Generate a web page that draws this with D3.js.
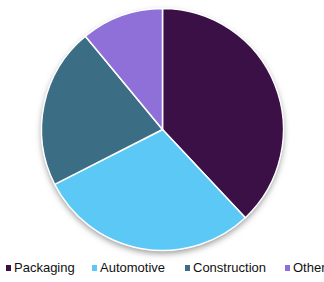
<!DOCTYPE html>
<html>
<head>
<meta charset="utf-8">
<script src="https://cdn.jsdelivr.net/npm/d3@7"></script>
<style>
  body { margin: 0; background: #fff; }
  svg { display: block; }
</style>
</head>
<body>
<div id="chart"></div>
<script>
let categories = ["Packaging", "Automotive", "Construction", "Others"];
let shares = [38, 29.5, 21.5, 11];
let colors = ["#3a1046", "#5bc8f5", "#3b6e84", "#8e70d8"];

let width = 324, height = 282;
let cx = 162.5, cy = 129.5, radius = 121;

let svg = d3.select("#chart").append("svg")
    .attr("width", width)
    .attr("height", height);

let defs = svg.append("defs");
defs.append("filter")
    .attr("id", "shadow")
    .attr("x", "-20%").attr("y", "-20%")
    .attr("width", "140%").attr("height", "140%")
    .append("feGaussianBlur")
    .attr("stdDeviation", 3);

let data = categories.map((c, i) => ({name: c, value: shares[i], color: colors[i]}));

let pie = d3.pie()
    .sort(null)
    .value(d => d.value);

let arc = d3.arc()
    .innerRadius(0)
    .outerRadius(radius);

let g = svg.append("g")
    .attr("transform", `translate(${cx},${cy})`);

// soft shadow under the pie
g.append("circle")
    .attr("cx", 0)
    .attr("cy", 3)
    .attr("r", radius)
    .attr("fill", "#999")
    .attr("filter", "url(#shadow)");

g.selectAll("path")
    .data(pie(data))
    .enter().append("path")
    .attr("d", arc)
    .attr("fill", d => d.data.color)
    .attr("stroke", "#fff")
    .attr("stroke-width", 1.5)
    .attr("stroke-linejoin", "round");

// legend
let legendX = d3.scalePoint()
    .domain(categories)
    .range([6, 285]);
let legendOffsets = {Packaging: 6, Automotive: 92, Construction: 185, Others: 285};

let legend = svg.append("g")
    .selectAll("g")
    .data(data)
    .enter().append("g")
    .attr("transform", d => `translate(${legendOffsets[d.name]},272)`);

legend.append("rect")
    .attr("x", 0)
    .attr("y", -7)
    .attr("width", 5)
    .attr("height", 6)
    .attr("fill", d => d.color);

legend.append("text")
    .attr("x", 8)
    .attr("y", 0)
    .attr("font-family", "Liberation Sans, Arial, sans-serif")
    .attr("font-size", 13)
    .attr("fill", "#111")
    .text(d => d.name);
</script>
</body>
</html>
